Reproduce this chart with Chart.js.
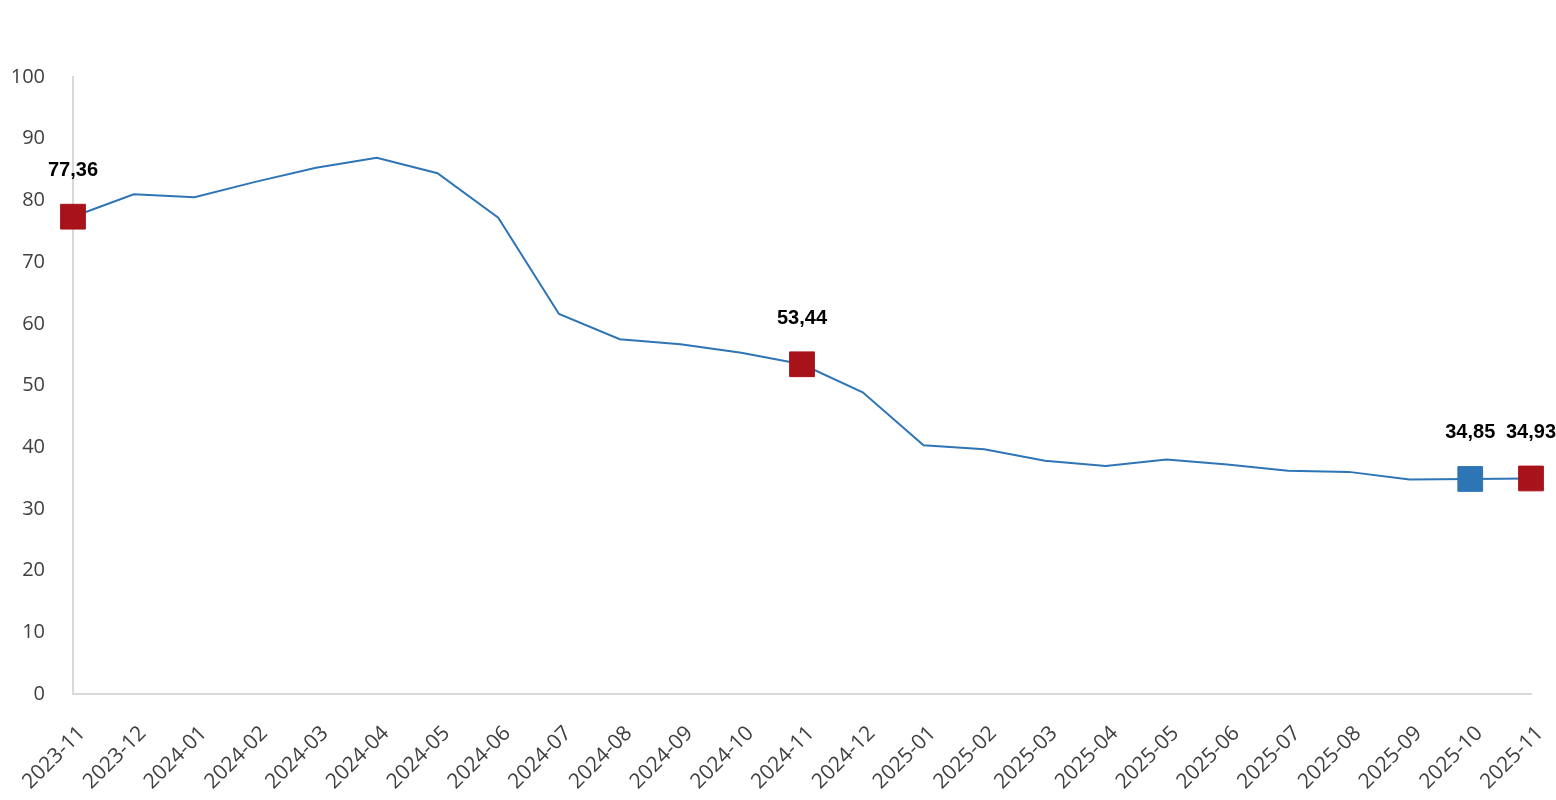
<!DOCTYPE html>
<html>
<head>
<meta charset="utf-8">
<script src="https://cdn.jsdelivr.net/npm/chart.js@4"></script>
<style>
  html, body { margin: 0; padding: 0; background: #fff; }
  #wrap { width: 1556px; height: 800px; }
</style>
</head>
<body>
<div id="wrap"><canvas id="rateChart" width="1556" height="800"></canvas></div>
<script>
const months = [
  "2023-11", "2023-12", "2024-01", "2024-02", "2024-03", "2024-04", "2024-05",
  "2024-06", "2024-07", "2024-08", "2024-09", "2024-10", "2024-11", "2024-12",
  "2025-01", "2025-02", "2025-03", "2025-04", "2025-05", "2025-06", "2025-07",
  "2025-08", "2025-09", "2025-10", "2025-11"
];
const values = [
  77.36, 81.0, 80.5, 83.0, 85.3, 86.9, 84.4,
  77.2, 61.6, 57.5, 56.7, 55.3, 53.44, 48.9,
  40.3, 39.65, 37.8, 36.95, 38.0, 37.2, 36.2,
  36.0, 34.75, 34.85, 34.93
];
// months that get a square marker and a value label
const markedMonths = ["2023-11", "2024-11", "2025-10", "2025-11"];
const markerColors = ["#A8121B", "#A8121B", "#2E75B6", "#A8121B"];
const yTicks = [0, 10, 20, 30, 40, 50, 60, 70, 80, 90, 100];

const lineColor = "#2E75B6";

function markerIndex(i) {
  return markedMonths.indexOf(months[i]);
}

const valueLabels = {
  id: "valueLabels",
  afterDatasetsDraw(chart) {
    const ctx = chart.ctx;
    const meta = chart.getDatasetMeta(0);
    ctx.save();
    ctx.font = "bold 20px 'Liberation Sans', Arial, sans-serif";
    ctx.fillStyle = "#000";
    ctx.textAlign = "center";
    ctx.textBaseline = "middle";
    meta.data.forEach((pt, i) => {
      if (markerIndex(i) < 0) return;
      const txt = values[i].toFixed(2).replace(".", ",");
      ctx.fillText(txt, pt.x, pt.y - 46);
    });
    ctx.restore();
  }
};

const ctx = document.getElementById("rateChart").getContext("2d");

new Chart(ctx, {
  type: "line",
  data: {
    labels: months,
    datasets: [
      {
        data: values,
        borderColor: lineColor,
        borderWidth: 2,
        tension: 0,
        pointStyle: "rect",
        pointRadius: (c) => (markerIndex(c.dataIndex) >= 0 ? 17.5 : 0),
        pointHoverRadius: (c) => (markerIndex(c.dataIndex) >= 0 ? 17.5 : 0),
        pointBackgroundColor: (c) => markerColors[markerIndex(c.dataIndex)] || lineColor,
        pointBorderColor: (c) => markerColors[markerIndex(c.dataIndex)] || lineColor,
        pointBorderWidth: 1,
      },
    ],
  },
  options: {
    responsive: false,
    animation: false,
    devicePixelRatio: 1,
    layout: {
      padding: { top: 77, right: 25, bottom: 0, left: 0 },
    },
    plugins: {
      legend: { display: false },
      tooltip: { enabled: false },
    },
    scales: {
      x: {
        grid: { display: false, drawTicks: false },
        border: { color: "#D9D9D9", width: 2 },
        ticks: {
          autoSkip: false,
          maxRotation: 45,
          minRotation: 45,
          padding: 27,
          labelOffset: 9,
          color: "#404040",
          font: { family: "'Open Sans', 'Noto Sans', sans-serif", size: 21 },
        },
        afterFit: (scale) => {
          scale.height = 106;
          scale.paddingLeft = 0;
          scale.paddingRight = 0;
        },
      },
      y: {
        min: 0,
        max: 100,
        afterBuildTicks: (scale) => {
          scale.ticks = yTicks.map((v) => ({ value: v }));
        },
        grid: { display: false, drawTicks: false },
        border: { color: "#D9D9D9", width: 2 },
        ticks: {
          padding: 28,
          color: "#404040",
          font: { family: "'Open Sans', 'Noto Sans', sans-serif", size: 20 },
        },
        afterFit: (scale) => {
          scale.width = 73;
        },
      },
    },
  },
  plugins: [valueLabels],
});
</script>
</body>
</html>
